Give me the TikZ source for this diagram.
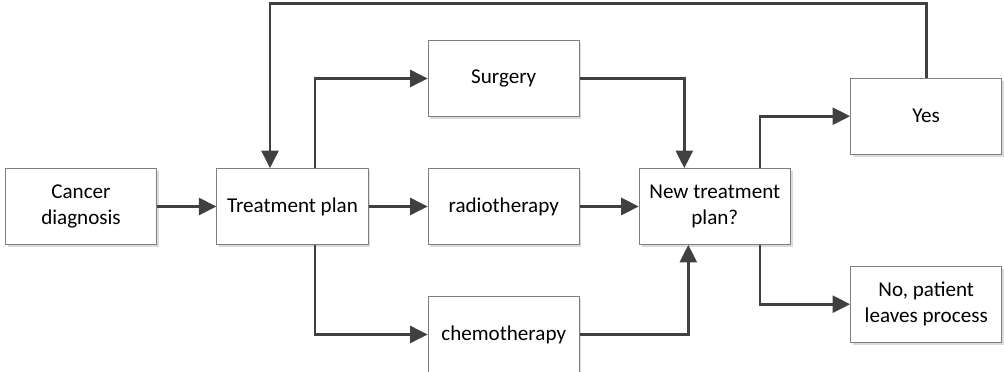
\documentclass[tikz,border=0pt]{standalone}
\usepackage{fontspec}
\setmainfont{Carlito}
\usetikzlibrary{arrows.meta,shadows}
\definecolor{linegray}{HTML}{404040}
\definecolor{boxgray}{HTML}{7F7F7F}
\tikzset{
  box/.style={draw=boxgray, line width=0.7pt, fill=white, align=center,
    minimum width=3.775cm, minimum height=1.89cm, inner sep=2pt,
    font=\fontsize{15}{18.2}\selectfont,
    drop shadow={shadow xshift=1.6pt, shadow yshift=-1.8pt, fill=black!14, opacity=1}},
  arr/.style={draw=linegray, line width=2.1pt, -{Triangle[length=12.5pt,width=12pt]}}
}
\begin{document}
\begin{tikzpicture}[x=0.025cm,y=-0.025cm]
        \useasboundingbox (0,0) rectangle (1004,372);
        % boxes
        \node[box] (diag) at (81,206.5) {Cancer\\diagnosis};
        \node[box] (plan) at (292.5,206.5) {Treatment plan};
        \node[box] (surgery) at (503.7,78.5) {Surgery};
        \node[box] (radio) at (503.7,206.5) {radiotherapy};
        \node[box] (chemo) at (503.7,334.5) {chemotherapy};
        \node[box] (newplan) at (714.8,206.5) {New treatment\\plan?};
        \node[box] (yes) at (926.2,116.2) {Yes};
        \node[box] (no) at (926.2,304.2) {No, patient\\leaves process};

        \coordinate (fb) at (270,3.5);
        \coordinate (split) at (315,0);
        \coordinate (join1) at (684.3,0);
        \coordinate (join2) at (688.3,0);
        \coordinate (decide) at (760,0);

        % connectors
        \draw[arr] (diag) -- (plan);
        \draw[arr] (plan) -- (radio);
        \draw[arr] (plan.north -| split) |- (surgery.west);
        \draw[arr] (plan.south -| split) |- (chemo.west);
        \draw[arr] (surgery.east) -| (newplan.north -| join1);
        \draw[arr] (radio) -- (newplan);
        \draw[arr] (chemo.east) -| (newplan.south -| join2);
        \draw[arr] (newplan.north -| decide) |- (yes.west);
        \draw[arr] (newplan.south -| decide) |- (no.west);
        \draw[arr] (yes.north) |- (fb) -- (fb |- plan.north);

      \end{tikzpicture}
\end{document}
